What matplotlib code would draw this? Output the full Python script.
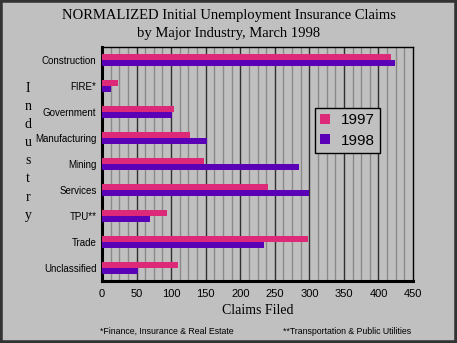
import numpy as np
import matplotlib
matplotlib.use("Agg")
import matplotlib.pyplot as plt
from matplotlib.patches import Rectangle

# data
industries = ["Construction", "FIRE*", "Government", "Manufacturing", "Mining",
              "Services", "TPU**", "Trade", "Unclassified"]
claims_1997 = [418, 23, 104, 127, 147, 240, 94, 298, 110]
claims_1998 = [424, 13, 101, 152, 285, 300, 69, 235, 52]
x_ticks = [0, 50, 100, 150, 200, 250, 300, 350, 400, 450]

pink = "#DD2A78"
purple = "#5A00B6"
bg = "#C0C0C0"
serif = "Liberation Serif"
sans = "Liberation Sans"

fig = plt.figure(figsize=(4.57, 3.43), dpi=100, facecolor=bg)
# dark frame round the whole picture
fig.patches.append(Rectangle((0, 0), 1, 1, transform=fig.transFigure, fill=False,
                             edgecolor="#333333", linewidth=4, zorder=10))

ax = fig.add_axes([102 / 457, 1 - 281 / 343, 311 / 457, 234 / 343])
ax.set_facecolor(bg)

y = np.arange(len(industries))
h = 0.245
ax.barh(y - h / 2, claims_1997, height=h, color=pink, label="1997", zorder=3)
ax.barh(y + h / 2, claims_1998, height=h, color=purple, label="1998", zorder=3)

ax.set_xlim(0, 450)
ax.set_ylim(len(industries) - 0.5, -0.5)

# grid: dark every 50, grey every 12.5
for v in np.arange(12.5, 450, 12.5):
    if v % 50 == 0:
        ax.axvline(v, color="#303030", linewidth=1.0, zorder=1)
    else:
        ax.axvline(v, color="#8A8A8A", linewidth=1.0, zorder=1)

ax.set_xticks(x_ticks)
ax.set_xticklabels([str(t) for t in x_ticks], fontfamily=sans, fontsize=8)
ax.set_yticks(y)
ax.set_yticklabels(industries, fontfamily=sans, fontsize=7)
ax.tick_params(axis="both", length=0, pad=4)
ax.tick_params(axis="x", pad=6)

for side in ["top", "right"]:
    ax.spines[side].set_linewidth(1.0)
for side in ["left", "bottom"]:
    ax.spines[side].set_linewidth(2.2)

ax.set_xlabel("Claims Filed", fontfamily=serif, fontsize=10, labelpad=3)

leg = ax.legend(loc="upper left", bbox_to_anchor=((315 - 102) / 311, (281 - 108) / 234),
                prop={"family": sans, "size": 11}, frameon=True, fancybox=False,
                handlelength=0.65, handleheight=0.65, handletextpad=0.7,
                borderpad=0.35, labelspacing=0.42, borderaxespad=0)
leg.get_frame().set_facecolor(bg)
leg.get_frame().set_edgecolor("black")
leg.get_frame().set_linewidth(1.0)
leg.get_frame().set_alpha(1)

fig.text(0.5, 1 - 15 / 343, "NORMALIZED Initial Unemployment Insurance Claims",
         ha="center", va="center", fontfamily=serif, fontsize=10.5)
fig.text(0.5, 1 - 33 / 343, "by Major Industry, March 1998",
         ha="center", va="center", fontfamily=serif, fontsize=10.5)

# vertical stacked axis title
for i, ch in enumerate("Industry"):
    fig.text(28 / 457, 1 - (88 + i * 18.2) / 343, ch, ha="center", va="center",
             fontfamily=serif, fontsize=10)

fig.text(100 / 457, 1 - 331 / 343, "*Finance, Insurance & Real Estate",
         ha="left", va="center", fontfamily=sans, fontsize=6.3)
fig.text(283 / 457, 1 - 331 / 343, "**Transportation & Public Utilities",
         ha="left", va="center", fontfamily=sans, fontsize=6.3)

fig.savefig("out.png", dpi=100, facecolor=bg)
